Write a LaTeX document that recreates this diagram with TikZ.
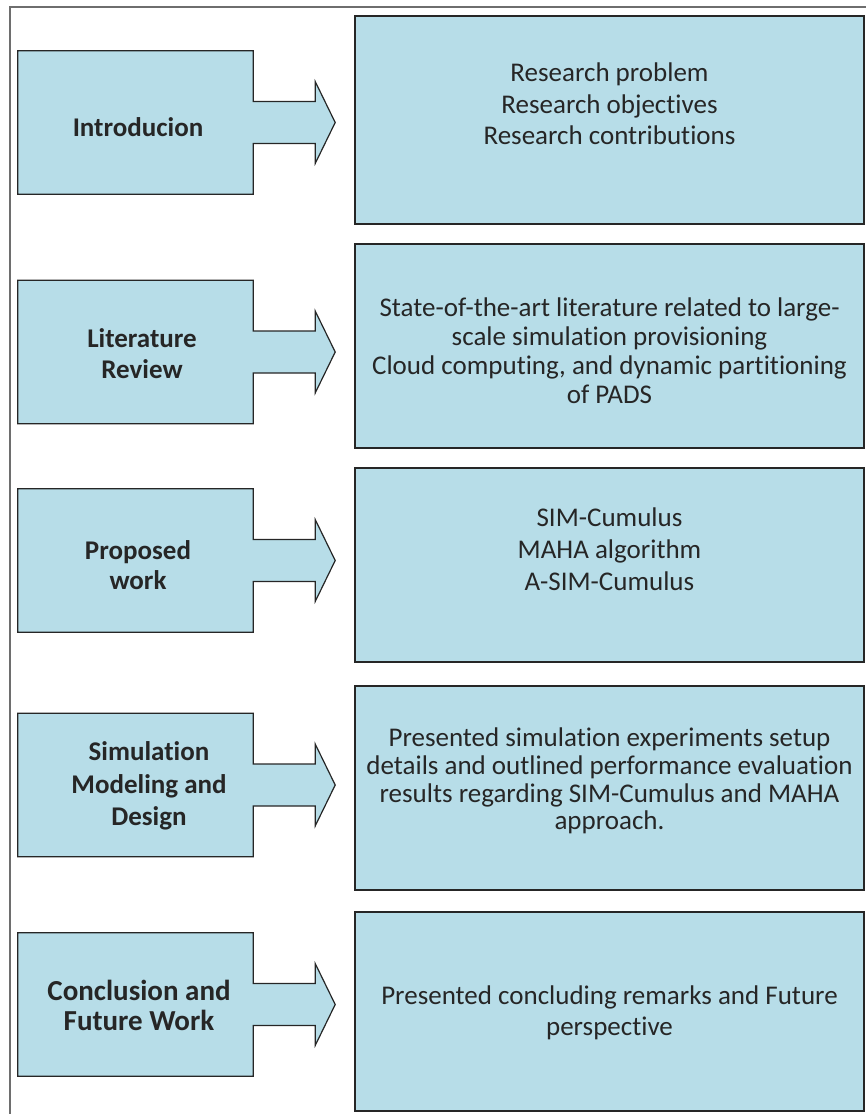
\documentclass[tikz,border=0pt]{standalone}
\usepackage{fontspec}
\setmainfont{Carlito}[RawFeature={-liga;-clig}]
\usetikzlibrary{calc}
\pgfdeclarelayer{background}
\pgfsetlayers{background,main}
\definecolor{boxblue}{HTML}{B7DDE8}
\definecolor{edge}{HTML}{262626}
\definecolor{framegray}{HTML}{6E6E6E}
\definecolor{ink}{HTML}{262626}

% Left stage box merged with a block arrow pointing to its detail box
\newcommand{\stageshape}[1]{%
  \begin{pgfonlayer}{background}
    \draw[stageline] (#1.north west) -- (#1.north east)
      -- ($(#1.east)+(0,-21)$) -- ++(62,0) -- ++(0,-20) -- ++(20,41)
      -- ++(-20,41) -- ++(0,-20) -- ($(#1.east)+(0,21)$)
      -- (#1.south east) -- (#1.south west) -- cycle;
  \end{pgfonlayer}}

\begin{document}
\begin{tikzpicture}[x=1pt,y=-1pt,
  stagebox/.style={rectangle,draw=none,inner sep=0pt,minimum width=235pt,minimum height=143pt},
  stageline/.style={draw=edge,line width=1.2pt,fill=boxblue,line join=miter},
  stagetext/.style={inner sep=0pt,align=center,text=ink,font=\bfseries\fontsize{27}{31}\selectfont},
  infobox/.style={rectangle,draw=edge,line width=1.2pt,fill=boxblue,inner sep=0pt,minimum width=509pt},
  infotext/.style={inner sep=0pt,align=center,text=ink,font=\fontsize{27}{31}\selectfont},
  frameline/.style={draw=framegray,line width=1.5pt}]
\useasboundingbox (0,0) rectangle (866,1114);

% page frame (top and left edges)
\coordinate (fbl) at (10,1114);
\coordinate (ftl) at (10,7);
\coordinate (ftr) at (866,7);
\draw[frameline] (fbl) -- (ftl) -- (ftr);

% ---- Stage 1
\node[stagebox] (L1) at (135.5,122.5) {};
\stageshape{L1}
\node[stagetext] (L1t) at (138,127) {Introducion};
\node[infobox,minimum height=208pt] (R1) at (609.5,120) {};
\node[infotext,font=\fontsize{27}{31.5}\selectfont] (R1t) at (609.5,104) {Research problem\\Research objectives\\Research contributions};

% ---- Stage 2
\node[stagebox] (L2) at (135.5,352) {};
\stageshape{L2}
\node[stagetext] (L2t) at (142,354) {Literature\\Review};
\node[infobox,minimum height=204pt] (R2) at (609.5,346) {};
\node[infotext,font=\fontsize{27}{29}\selectfont] (R2t) at (609.5,351) {State-of-the-art literature related to large-\\scale simulation provisioning\\Cloud computing, and dynamic partitioning\\of PADS};

% ---- Stage 3
\node[stagebox] (L3) at (135.5,560.5) {};
\stageshape{L3}
\node[stagetext,font=\bfseries\fontsize{27}{30}\selectfont] (L3t) at (138,565) {Proposed\\work};
\node[infobox,minimum height=194pt] (R3) at (609.5,565) {};
\node[infotext,font=\fontsize{27}{32}\selectfont] (R3t) at (609.5,549) {SIM-Cumulus\\MAHA algorithm\\A-SIM-Cumulus};

% ---- Stage 4
\node[stagebox] (L4) at (135.5,785) {};
\stageshape{L4}
\node[stagetext,font=\bfseries\fontsize{27}{32.5}\selectfont] (L4t) at (149,786) {Simulation\\Modeling and\\Design};
\node[infobox,minimum height=204pt] (R4) at (609.5,788) {};
\node[infotext,font=\fontsize{27}{27.7}\selectfont] (R4t) at (609.5,781) {Presented simulation experiments setup\\details and outlined performance evaluation\\results regarding SIM-Cumulus and MAHA\\approach.};

% ---- Stage 5
\node[stagebox] (L5) at (135.5,1004.5) {};
\stageshape{L5}
\node[stagetext,font=\bfseries\fontsize{29}{30}\selectfont] (L5t) at (139,1005) {Conclusion and\\Future Work};
\node[infobox,minimum height=199pt] (R5) at (609.5,1011.5) {};
\node[infotext] (R5t) at (609.5,1012.5) {Presented concluding remarks and Future\\perspective};
\end{tikzpicture}
\end{document}
